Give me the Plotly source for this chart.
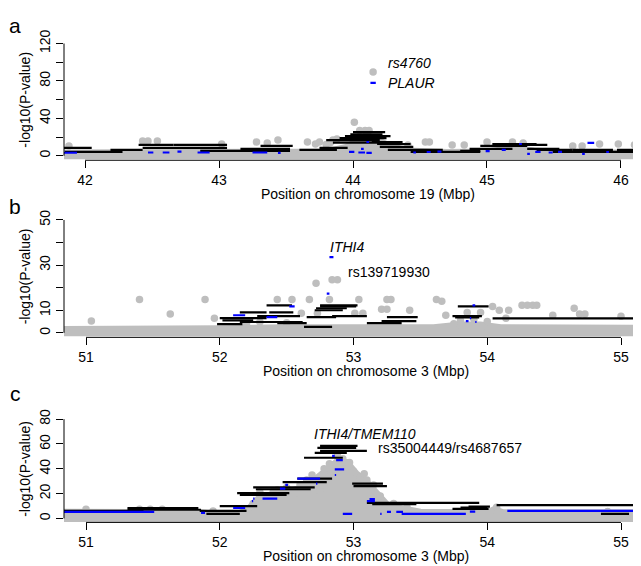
import plotly.graph_objects as go

# The page body has an 8px default margin; the figure is sized and positioned so that
# the plotted content lands at the reference pixel positions within the 641x566 window.
OFF = 8
W, H = 641 - OFF, 566 - OFF
FONT = "Liberation Sans, Arial, sans-serif"
GRAY = "#BEBEBE"
BLUE = "#0000FF"

# ---------------- Panel a: chromosome 19 ----------------
a_gray_x = [41.88, 42.43, 42.47, 42.54, 43.02, 43.28, 43.36, 43.44, 43.66, 43.72, 43.75, 43.80,
            43.83, 43.85, 43.88, 44.01, 44.05, 44.09, 44.12, 44.41, 44.54, 44.57, 44.74, 44.83,
            45.00, 45.19, 45.27, 45.64, 45.71, 45.84, 45.98, 46.10, 44.15]
a_gray_y = [10.5, 15.8, 15.8, 15.8, 12.6, 14.7, 13.7, 16.8, 14.7, 12.6, 14.7, 12.0,
            14.0, 16.8, 18.0, 35.8, 27.0, 27.0, 27.0, 11.6, 14.7, 14.7, 11.6, 11.6,
            14.7, 14.7, 13.7, 10.5, 10.5, 12.6, 12.6, 11.6, 89.5]
a_band_x = [41.80, 42.20, 42.50, 43.00, 43.50, 43.80, 43.95, 44.05, 44.15, 44.25, 44.40,
            44.70, 45.00, 45.20, 45.35, 45.60, 46.20]
a_band_y = [3.0, 3.0, 3.5, 3.5, 3.5, 4.0, 9.0, 17.0, 19.0, 12.0, 5.0,
            3.5, 4.0, 8.0, 5.0, 3.0, 3.0]
a_blk_x0 = [41.84, 41.85, 42.19, 42.40, 42.43, 42.66, 42.86, 43.16, 43.31, 43.60, 43.75, 43.80,
            43.85, 43.90, 43.94, 43.98, 44.00, 44.14, 44.18, 44.20, 44.26, 44.43, 44.80, 44.87,
            44.95, 45.04, 45.17, 45.30, 45.37, 45.49, 45.64, 45.84, 45.97]
a_blk_x1 = [42.05, 42.28, 42.43, 42.66, 43.06, 43.06, 43.53, 43.53, 43.55, 43.88, 43.96, 44.20,
            44.22, 44.25, 44.28, 44.22, 44.24, 44.37, 44.43, 44.45, 44.67, 44.95, 44.95, 45.19,
            45.30, 45.37, 45.45, 45.54, 45.64, 45.87, 45.94, 46.15, 46.15]
a_blk_y = [8.4, 4.2, 6.3, 11.6, 8.4, 11.6, 5.3, 7.4, 10.5, 6.3, 8.4, 16.8,
           14.0, 18.9, 21.0, 23.0, 25.3, 14.7, 12.6, 9.5, 6.3, 4.2, 5.3, 7.4,
           10.5, 12.6, 11.6, 7.4, 6.3, 4.2, 6.3, 4.2, 6.3]
a_blu_x0 = [41.84, 42.47, 42.58, 42.69, 42.84, 43.25, 43.44, 43.97, 44.04, 44.06, 44.10, 44.10,
            44.45, 44.55, 44.63, 44.99, 45.11, 45.24, 45.30, 45.36, 45.46, 45.53, 45.71, 45.75,
            45.89, 46.10, 44.13]
a_blu_x1 = [41.94, 42.51, 42.63, 42.72, 42.93, 43.36, 43.46, 44.01, 44.09, 44.08, 44.12, 44.14,
            44.47, 44.58, 44.66, 45.02, 45.14, 45.26, 45.32, 45.40, 45.49, 45.56, 45.73, 45.80,
            45.91, 46.15, 44.17]
a_blu_y = [3.2, 3.5, 3.5, 4.5, 3.5, 3.5, 3.0, 4.2, 3.5, 7.4, 14.7, 3.0,
           3.5, 4.0, 4.5, 5.0, 6.3, 12.6, 2.0, 4.2, 3.5, 4.2, 2.1, 13.7,
           4.0, 4.2, 78.0]
a_xticks = [42, 43, 44, 45, 46]
a_yticks = [0, 20, 40, 60, 80, 100, 120]
a_ylabels = ["0", "", "40", "", "80", "", "120"]

# ---------------- Panel b: chromosome 3 ----------------
b_gray_x = [51.04, 51.40, 51.63, 51.89, 51.96, 52.30, 52.43, 52.54, 52.61, 52.67, 52.72, 52.73,
            52.82, 52.84, 52.88, 53.01, 53.04, 53.07, 53.21, 53.25, 53.25, 53.28, 53.42, 53.62,
            53.66, 53.69, 53.85, 53.95, 54.04, 54.09, 54.16, 54.14, 54.26, 54.30, 54.34, 54.37,
            54.49, 54.65, 54.69, 54.73, 55.00, 55.12, 53.80, 53.90, 54.00, 53.75, 52.20, 52.50]
b_gray_y = [5.2, 14.8, 8.3, 14.8, 6.5, 4.8, 14.8, 14.8, 8.7, 14.8, 22.0, 8.7,
            14.8, 23.5, 23.5, 8.7, 14.8, 8.7, 10.4, 10.4, 14.8, 14.8, 10.0, 14.8,
            14.0, 7.8, 9.0, 9.0, 11.7, 10.0, 10.0, 6.5, 12.2, 12.2, 12.2, 12.2,
            7.8, 10.9, 8.3, 8.3, 7.4, 10.9, 5.5, 6.0, 5.0, 4.0, 4.0, 4.5]
b_band_x = [50.80, 51.50, 52.00, 52.50, 53.00, 53.60, 53.80, 53.95, 54.10, 55.20]
b_band_y = [1.5, 1.5, 1.8, 2.3, 2.3, 2.3, 3.5, 3.5, 2.3, 2.0]
b_blk_x0 = [51.98, 52.00, 52.02, 52.15, 52.15, 52.28, 52.35, 52.37, 52.43, 52.63, 52.65, 52.71,
            52.72, 52.75, 52.75, 52.84, 53.10, 53.21, 53.25, 53.78, 53.74, 53.76, 54.04]
b_blk_x1 = [52.17, 52.35, 52.25, 52.35, 52.62, 52.60, 52.54, 52.55, 52.65, 52.84, 52.87, 52.92,
            52.95, 53.02, 53.03, 53.10, 53.36, 53.47, 53.48, 54.01, 53.96, 53.94, 55.20]
b_blk_y = [3.9, 6.5, 5.5, 9.1, 4.8, 7.4, 12.2, 9.1, 4.3, 2.6, 7.0, 10.0,
           10.9, 11.7, 12.2, 7.4, 4.3, 5.2, 7.0, 11.7, 7.4, 6.8, 6.4]
b_blu_x0 = [52.10, 52.35, 52.52, 52.82, 52.80, 53.89, 53.84, 53.87, 53.91]
b_blu_x1 = [52.19, 52.43, 52.56, 52.85, 52.82, 53.91, 53.86, 53.88, 53.92]
b_blu_y = [7.8, 7.0, 11.7, 33.5, 17.4, 12.2, 5.2, 6.5, 4.8]
b_xticks = [51, 52, 53, 54, 55]
b_yticks = [0, 10, 20, 30, 40, 50]
b_ylabels = ["0", "10", "", "30", "", "50"]

# ---------------- Panel c: chromosome 3 ----------------
c_gray_x = [51.00, 51.40, 51.48, 51.57, 51.95, 52.30, 52.35, 52.43, 52.55, 52.60, 52.69, 52.75,
            52.82, 52.88, 53.00, 53.05, 53.10, 54.07, 54.90, 52.25, 52.40, 52.50, 52.65, 52.78,
            52.92, 52.97, 53.08, 53.15, 53.20, 53.30, 53.40]
c_gray_y = [7.5, 7.5, 7.5, 7.5, 6.0, 21.0, 15.0, 23.0, 18.0, 27.0, 35.0, 22.0,
            44.0, 50.5, 38.0, 33.0, 31.0, 9.0, 5.5, 12.0, 22.0, 25.0, 31.0, 40.0,
            48.0, 45.0, 36.0, 27.0, 18.0, 12.0, 9.0]
c_band_x = [50.80, 51.30, 51.85, 52.00, 52.15, 52.22, 52.30, 52.45, 52.60, 52.70, 52.82, 52.88,
            52.95, 53.02, 53.10, 53.17, 53.25, 53.35, 53.50, 54.00, 54.05, 54.12, 55.20]
c_band_y = [5.0, 5.0, 4.5, 3.0, 4.0, 8.0, 17.0, 20.0, 24.0, 30.0, 40.0, 46.0,
            45.0, 36.0, 29.0, 20.0, 11.0, 8.0, 5.0, 4.5, 7.0, 4.5, 4.5]
c_blk_x0 = [50.83, 51.31, 51.31, 51.85, 51.90, 52.00, 52.13, 52.15, 52.25, 52.27, 52.47, 52.58,
            52.63, 52.71, 52.73, 52.75, 52.77, 52.75, 52.99, 53.00, 53.10, 53.14, 53.74, 53.80,
            53.86, 54.07, 54.85]
c_blk_x1 = [51.43, 51.84, 51.86, 52.20, 52.15, 52.28, 52.52, 52.50, 52.71, 52.68, 52.80, 52.84,
            52.92, 52.95, 53.02, 53.03, 53.00, 53.10, 53.22, 53.25, 53.94, 53.47, 54.01, 54.00,
            54.02, 55.20, 55.06]
c_blk_y = [6.1, 8.4, 7.0, 6.1, 3.7, 10.0, 20.4, 19.0, 25.0, 23.5, 29.3, 32.0,
           48.9, 52.8, 56.8, 58.4, 57.5, 54.4, 28.0, 26.0, 12.5, 11.6, 7.7, 8.8,
           9.5, 10.8, 3.7]
c_blu_x0 = [50.83, 51.86, 52.10, 52.24, 52.25, 52.32, 52.45, 52.49, 52.58, 52.72, 52.84, 52.87,
            52.86, 52.86, 52.92, 53.10, 53.12, 53.20, 53.25, 53.32, 53.36, 53.87, 54.15]
c_blu_x1 = [51.51, 51.89, 52.19, 52.25, 52.26, 52.43, 52.49, 52.51, 52.75, 52.73, 52.86, 52.92,
            52.93, 52.87, 52.99, 53.16, 53.16, 53.21, 53.28, 53.37, 53.84, 53.91, 55.10]
c_blu_y = [5.3, 4.5, 8.4, 14.0, 16.0, 16.0, 24.0, 27.0, 32.0, 28.0, 50.4, 47.0,
           39.5, 35.0, 3.7, 14.0, 15.6, 3.7, 5.3, 5.3, 3.7, 5.5, 6.1]
c_xticks = [51, 52, 53, 54, 55]
c_yticks = [0, 20, 40, 60, 80]
c_ylabels = ["0", "20", "40", "60", "80"]

x_title_a = "Position on chromosome 19 (Mbp)"
x_title_bc = "Position on chromosome 3 (Mbp)"
y_title = "-log10(P-value)"


def px(xp):
    return (xp - OFF) / W


def py(yp):
    return 1 - (yp - OFF) / H


def seg_trace(x0, x1, y, color, width, xa, ya):
    xs, ys = [], []
    for s, e, v in zip(x0, x1, y):
        xs += [s, e, None]
        ys += [v, v, None]
    return go.Scatter(x=xs, y=ys, mode="lines", line=dict(color=color, width=width),
                      xaxis=xa, yaxis=ya, hoverinfo="skip", showlegend=False)


def band_trace(bx, by, xa, ya, lw):
    xs = list(bx) + list(reversed(bx))
    ys = list(by) + [0] * len(bx)
    return go.Scatter(x=xs, y=ys, mode="lines", fill="toself", fillcolor=GRAY,
                      line=dict(color=GRAY, width=lw), xaxis=xa, yaxis=ya,
                      hoverinfo="skip", showlegend=False)


def pts_trace(gx, gy, xa, ya):
    return go.Scatter(x=gx, y=gy, mode="markers",
                      marker=dict(color=GRAY, size=7.5, line=dict(width=0)),
                      xaxis=xa, yaxis=ya, hoverinfo="skip", showlegend=False)


fig = go.Figure()
panels = [
    ("x", "y", a_band_x, a_band_y, a_gray_x, a_gray_y, a_blk_x0, a_blk_x1, a_blk_y, a_blu_x0, a_blu_x1, a_blu_y),
    ("x2", "y2", b_band_x, b_band_y, b_gray_x, b_gray_y, b_blk_x0, b_blk_x1, b_blk_y, b_blu_x0, b_blu_x1, b_blu_y),
    ("x3", "y3", c_band_x, c_band_y, c_gray_x, c_gray_y, c_blk_x0, c_blk_x1, c_blk_y, c_blu_x0, c_blu_x1, c_blu_y),
]
for xa, ya, bx, by, gx, gy, kx0, kx1, ky, ux0, ux1, uy in panels:
    fig.add_trace(band_trace(bx, by, xa, ya, 7))
    fig.add_trace(pts_trace(gx, gy, xa, ya))
    fig.add_trace(seg_trace(kx0, kx1, ky, "black", 2.2, xa, ya))
    fig.add_trace(seg_trace(ux0, ux1, uy, BLUE, 2.2, xa, ya))

tickfont = dict(family=FONT, size=14, color="black")


def xaxis_cfg(rng, ticks, anchor):
    return dict(range=rng, domain=[px(64), 1], tickvals=ticks, ticktext=[str(t) for t in ticks],
                ticks="outside", ticklen=7, tickwidth=1, tickcolor="black", showgrid=False,
                zeroline=False, showline=False, tickfont=tickfont, anchor=anchor, fixedrange=True)


def yaxis_cfg(rng, dom, ticks, labels, anchor):
    return dict(range=rng, domain=dom, tickvals=ticks, ticktext=labels, ticks="outside",
                ticklen=7, tickwidth=1, tickcolor="black", showgrid=False, zeroline=False,
                showline=False, tickfont=tickfont, tickangle=-90, anchor=anchor, fixedrange=True)


fig.update_layout(
    width=W, height=H, margin=dict(l=0, r=0, t=0, b=0),
    paper_bgcolor="white", plot_bgcolor="white", showlegend=False,
    font=dict(family=FONT, size=14, color="black"),
    xaxis=xaxis_cfg([41.8433, 46.1493], a_xticks, "y"),
    yaxis=yaxis_cfg([-4.8, 124.8], [py(153.6), py(30.4)], a_yticks, a_ylabels, "x"),
    xaxis2=xaxis_cfg([50.8355, 55.1495], b_xticks, "y2"),
    yaxis2=yaxis_cfg([-2, 52], [py(333.6), py(209.7)], b_yticks, b_ylabels, "x2"),
    xaxis3=xaxis_cfg([50.8355, 55.1495], c_xticks, "y3"),
    yaxis3=yaxis_cfg([-3.2, 83.2], [py(521.7), py(412.7)], c_yticks, c_ylabels, "x3"),
)

shapes = []
for xs, ys, xt, yt in [("x", "y", a_xticks, a_yticks), ("x2", "y2", b_xticks, b_yticks),
                       ("x3", "y3", c_xticks, c_yticks)]:
    shapes.append(dict(type="line", xref=xs, yref=ys + " domain", x0=xt[0], x1=xt[-1], y0=0, y1=0,
                       line=dict(color="black", width=1)))
    shapes.append(dict(type="line", xref=xs + " domain", yref=ys, x0=0, x1=0, y0=yt[0], y1=yt[-1],
                       line=dict(color="black", width=1)))
fig.update_layout(shapes=shapes)

ann = []


def txt(text, xp, yp, size=14, xanchor="left", angle=0):
    ann.append(dict(text=text, x=px(xp), y=py(yp), xref="paper", yref="paper", showarrow=False,
                    xanchor=xanchor, yanchor="middle", textangle=angle,
                    font=dict(family=FONT, size=size, color="black")))


txt("a", 15, 17, size=21, xanchor="center")
txt("b", 15, 201, size=21, xanchor="center")
txt("c", 15, 391, size=21, xanchor="center")
txt(x_title_a, 368, 188, xanchor="center")
txt(x_title_bc, 365.5, 367.5, xanchor="center")
txt(x_title_bc, 365.5, 556, xanchor="center")
txt(y_title, 25, 92, xanchor="center", angle=-90)
txt(y_title, 25, 271.6, xanchor="center", angle=-90)
txt(y_title, 25, 467.2, xanchor="center", angle=-90)
txt("<i>rs4760</i>", 386, 55)
txt("<i>PLAUR</i>", 386, 75)
txt("<i>ITHI4</i>", 328, 242)
txt("rs139719930", 346, 267)
txt("<i>ITHI4/TMEM110</i>", 312, 432)
txt("rs35004449/rs4687657", 376, 446)
fig.update_layout(annotations=ann)

fig.write_html("out.html")
